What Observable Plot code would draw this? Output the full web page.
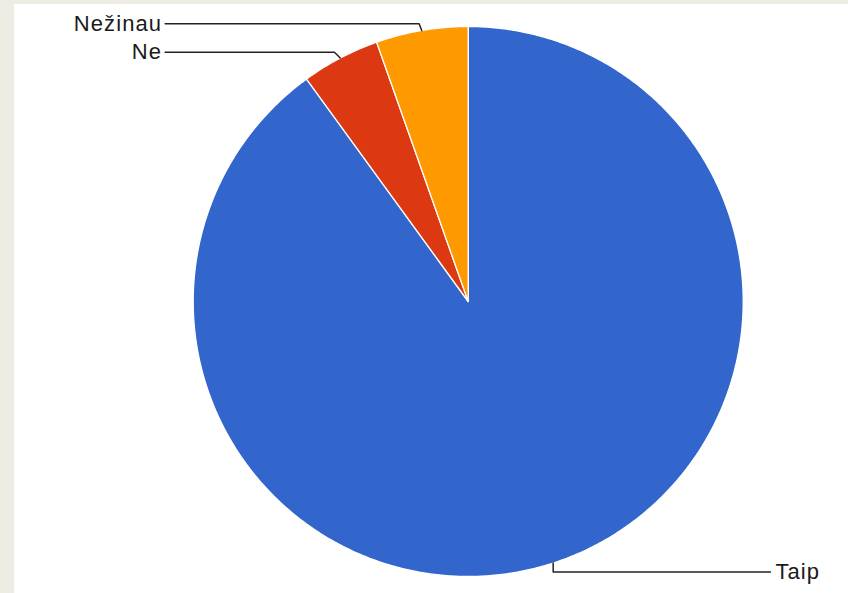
<!DOCTYPE html>
<html><head><meta charset="utf-8">
<script src="https://cdn.jsdelivr.net/npm/d3@7"></script>
<script src="https://cdn.jsdelivr.net/npm/@observablehq/plot@0.6"></script>
<style>
html,body{margin:0;padding:0;background:#eeebe3;width:848px;height:593px;overflow:hidden;}
#chart{position:absolute;left:14px;top:4px;width:834px;height:589px;background:#fff;}
#chart svg{display:block;}
#chart text{letter-spacing:1.1px;}
</style></head><body><div id="chart"></div>
<script>
// Data
const categories = ["Taip", "Ne", "Nežinau"];
const values = [90.0, 4.6, 5.4];
const colors = ["#3366cc", "#dc3912", "#ff9900"];

// Label layout (data units of the unit-circle scales)
const labelY = {"Taip": -0.984, "Ne": 0.9065, "Nežinau": 1.0098};
const labelX = {"Taip": 1.099, "Ne": -1.102, "Nežinau": -1.102};
const elbowSlant = {"Taip": 0, "Ne": 1, "Nežinau": 0.4};

const total = d3.sum(values);
let acc = 0;
const slices = categories.map((c, i) => {
  const a0 = acc / total * 2 * Math.PI;
  acc += values[i];
  const a1 = acc / total * 2 * Math.PI;
  return {c, a0, a1};
});

// slice outlines (clockwise from top)
const pts = [];
for (const s of slices) {
  const n = Math.max(2, Math.ceil((s.a1 - s.a0) / (Math.PI / 360)));
  pts.push({c: s.c, x: 0, y: 0});
  for (let k = 0; k <= n; k++) {
    const a = s.a0 + (s.a1 - s.a0) * k / n;
    pts.push({c: s.c, x: Math.sin(a), y: Math.cos(a)});
  }
}

// leader lines
const leaders = [];
const labels = [];
for (const s of slices) {
  const m = (s.a0 + s.a1) / 2;
  const sx = Math.sin(m), sy = Math.cos(m);
  const ly = labelY[s.c], lx = labelX[s.c];
  const dir = Math.sign(lx - sx);
  const ex = sx + dir * Math.abs(ly - sy) * elbowSlant[s.c];
  leaders.push({c: s.c, x: sx, y: sy}, {c: s.c, x: ex, y: ly}, {c: s.c, x: lx, y: ly});
  labels.push({c: s.c, x: lx, y: ly, anchor: lx < 0 ? "end" : "start"});
}

const chart = Plot.plot({
  width: 834,
  height: 589,
  marginLeft: 178.7,
  marginRight: 105.3,
  marginTop: 22,
  marginBottom: 17,
  x: {domain: [-1, 1], axis: null},
  y: {domain: [-1, 1], axis: null},
  color: {domain: categories, range: colors},
  style: {background: "#fff", overflow: "visible"},
  marks: [
    Plot.line(pts, {x: "x", y: "y", z: "c", fill: "c", stroke: "#fff", strokeWidth: 1.3, curve: "linear-closed", clip: false}),
    Plot.line(leaders, {x: "x", y: "y", z: "c", stroke: "#222", strokeWidth: 1.5}),
    Plot.text(labels.filter(d => d.anchor === "end"), {x: "x", y: "y", text: "c", textAnchor: "end", dx: -3, fontSize: 22, fill: "#1a1a1a", fontFamily: "Liberation Sans, Arial, sans-serif"}),
    Plot.text(labels.filter(d => d.anchor === "start"), {x: "x", y: "y", text: "c", textAnchor: "start", dx: 5, fontSize: 22, fill: "#1a1a1a", fontFamily: "Liberation Sans, Arial, sans-serif"})
  ]
});
document.getElementById("chart").appendChild(chart);
</script>
</body></html>
